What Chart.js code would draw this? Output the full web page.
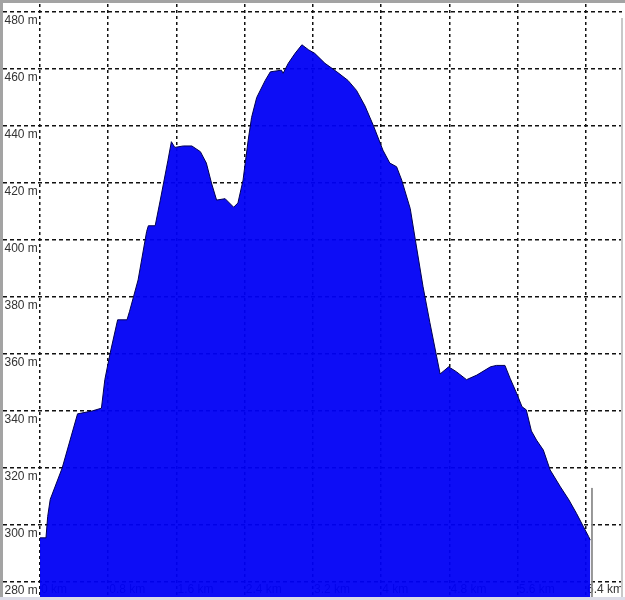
<!DOCTYPE html>
<html>
<head>
<meta charset="utf-8">
<title>Elevation profile</title>
<script src="https://cdn.jsdelivr.net/npm/chart.js@4.4.1/dist/chart.umd.min.js"></script>
<style>
  body { margin: 0; background: #fff; }
  canvas { display: block; }
</style>
</head>
<body>
<canvas id="myChart" width="625" height="600"></canvas>
<script>
// distance along the track (km) and elevation (m)
const distKm = [0, 0.07, 0.09, 0.12, 0.26, 0.44, 0.61, 0.72, 0.76, 0.82, 0.91, 1.02, 1.05, 1.15,
  1.25, 1.27, 1.35, 1.41, 1.5, 1.54, 1.58, 1.68, 1.78, 1.88, 1.95, 2.01, 2.07, 2.17, 2.27, 2.32,
  2.38, 2.44, 2.48, 2.54, 2.64, 2.7, 2.83, 2.85, 2.91, 2.99, 3.07, 3.15, 3.22, 3.34, 3.48, 3.61,
  3.71, 3.81, 3.91, 4.02, 4.1, 4.18, 4.24, 4.34, 4.4, 4.49, 4.57, 4.65, 4.69, 4.79, 4.88, 5.0,
  5.12, 5.28, 5.35, 5.45, 5.51, 5.59, 5.65, 5.7, 5.76, 5.82, 5.9, 5.98, 6.1, 6.2, 6.29, 6.37,
  6.43, 6.45];
const elevM = [295.5, 295.5, 303, 309, 320, 339, 340, 341, 351, 360, 372, 372, 375, 386,
  403, 405, 405, 414, 428, 434.5, 432.5, 433, 433, 431, 427, 420, 414, 414.5, 411.5, 413,
  421, 435, 443, 450, 456, 459, 459.6, 458.5, 462, 465.5, 468.5, 466.7, 465.5, 462, 459, 456,
  452.5, 447, 440, 431.5, 427, 425.7, 421, 411, 400, 383.6, 371, 359, 353, 355.5, 353.8, 351,
  352.6, 355.5, 356, 356, 351.5, 346, 341.5, 340.4, 333, 329.8, 326.3, 319.3, 313.4, 308.8, 304, 299.4,
  296, 294.7];

// position cursor at the end of the track
const cursorKm = [6.47, 6.47];
const cursorM = [313, 274.7];

const xTicks = [0, 0.8, 1.6, 2.4, 3.2, 4, 4.8, 5.6, 6.4];
const yTicks = [280, 300, 320, 340, 360, 380, 400, 420, 440, 460, 480];

const profile = distKm.map((d, i) => ({ x: d, y: elevM[i] }));
const cursor = cursorKm.map((d, i) => ({ x: d, y: cursorM[i] }));

// white background + grey frame like the original window
const framePlugin = {
  id: 'frame',
  beforeDraw(chart) {
    const c = chart.ctx;
    c.save();
    c.fillStyle = '#fff';
    c.fillRect(0, 0, chart.width, chart.height);
    c.restore();
  },
  afterDraw(chart) {
    const c = chart.ctx;
    c.save();
    c.fillStyle = '#a3a3a3';
    c.fillRect(0, 0, chart.width, 3);
    c.fillRect(0, 0, 3, chart.height);
    c.fillStyle = '#c8c8c8';
    c.fillRect(621, 18, 2, chart.height - 18);
    c.fillStyle = '#dcdce8';
    c.fillRect(0, 597, chart.width, 3);
    c.restore();
  }
};

const font = { family: '"Liberation Sans", Arial, sans-serif', size: 12 };

const ctx = document.getElementById('myChart').getContext('2d');
const myChart = new Chart(ctx, {
  type: 'line',
  data: {
    datasets: [{
      data: profile,
      backgroundColor: 'rgba(0, 0, 245, 0.95)',
      borderColor: '#000050',
      borderWidth: 1,
      fill: 'start',
      pointRadius: 0,
      tension: 0
    }, {
      data: cursor,
      borderColor: '#8a8a8a',
      borderWidth: 1,
      fill: false,
      pointRadius: 0
    }]
  },
  options: {
    responsive: false,
    animation: false,
    devicePixelRatio: 1,
    layout: { padding: { left: 0, top: 4, right: 3, bottom: 3 } },
    plugins: { legend: { display: false }, tooltip: { enabled: false } },
    scales: {
      x: {
        type: 'linear',
        min: -0.4337,
        max: 6.822,
        afterBuildTicks: s => { s.ticks = xTicks.map(v => ({ value: v })); },
        afterFit: s => { s.paddingLeft = 0; s.paddingRight = 0; },
        border: { display: false, dash: [3, 3] },
        grid: { color: '#111', lineWidth: 1.5, drawTicks: false },
        ticks: {
          autoSkip: false,
          maxRotation: 0,
          mirror: true,
          padding: 0,
          align: 'start',
          labelOffset: 1,
          color: '#333',
          font: font,
          callback: v => v + ' km'
        }
      },
      y: {
        min: 274.74,
        max: 482.81,
        afterBuildTicks: s => { s.ticks = yTicks.map(v => ({ value: v })); },
        afterFit: s => { s.paddingTop = 0; s.paddingBottom = 0; },
        border: { display: false, dash: [4, 3] },
        grid: { color: '#111', lineWidth: 1.5, drawTicks: false },
        ticks: {
          autoSkip: false,
          mirror: true,
          padding: 1.5,
          labelOffset: 9,
          color: '#333',
          font: font,
          callback: v => v + ' m'
        }
      }
    }
  },
  plugins: [framePlugin]
});
</script>
</body>
</html>
